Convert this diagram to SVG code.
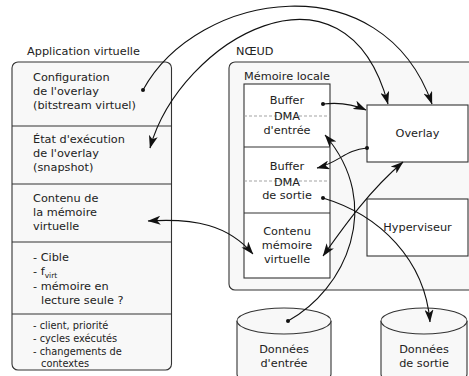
<svg xmlns="http://www.w3.org/2000/svg" width="469" height="376" viewBox="0 0 469 376">
  <style>
    text { font-family: "DejaVu Sans", "Liberation Sans", sans-serif; font-size: 11.3px; fill: #222; }
    .small { font-size: 9.8px; }
    .mid { text-anchor: middle; }
    .outer { fill: #f8f8f8; stroke: #333; stroke-width: 1.1; }
    .inner { fill: #ffffff; stroke: #333; stroke-width: 1.1; }
    .sep { stroke: #333; stroke-width: 1.1; fill: none; }
    .dash { stroke: #999; stroke-width: 0.9; stroke-dasharray: 3 2; fill: none; }
    .edge { fill: none; stroke: #111; stroke-width: 1.1; }
    .dot { fill: #111; }
  </style>
  <defs>
    <marker id="arrow" viewBox="0 0 13 9" refX="12.5" refY="4.5" markerWidth="13" markerHeight="9" markerUnits="userSpaceOnUse" orient="auto-start-reverse">
      <path d="M0,0 L13,4.5 L0,9 L3.5,4.5 z" fill="#111"/>
    </marker>
  </defs>

  <rect width="469" height="376" fill="#ffffff"/>

  <!-- Virtual application: record of sections -->
  <g id="app-virtuelle">
    <text x="27" y="55">Application virtuelle</text>
    <rect class="outer" x="12" y="62" width="159.5" height="308" rx="6"/>
    <line class="sep" x1="12" y1="126" x2="171.5" y2="126"/>
    <line class="sep" x1="12" y1="184" x2="171.5" y2="184"/>
    <line class="sep" x1="12" y1="242" x2="171.5" y2="242"/>
    <line class="sep" x1="12" y1="314" x2="171.5" y2="314"/>
    <text x="33" y="81">Configuration</text>
    <text x="33" y="95">de l'overlay</text>
    <text x="33" y="109">(bitstream virtuel)</text>
    <text x="33" y="143">État d'exécution</text>
    <text x="33" y="157">de l'overlay</text>
    <text x="33" y="171">(snapshot)</text>
    <text x="33" y="202">Contenu de</text>
    <text x="33" y="216">la mémoire</text>
    <text x="33" y="230">virtuelle</text>
    <text x="33" y="261">- Cible</text>
    <text x="33" y="275">- f<tspan font-size="7.5px" dy="2.5">virt</tspan></text>
    <text x="33" y="290">- mémoire en</text>
    <text x="41" y="304">lecture seule ?</text>
    <text class="small" x="33" y="329">- client, priorité</text>
    <text class="small" x="33" y="342">- cycles exécutés</text>
    <text class="small" x="33" y="355">- changements de</text>
    <text class="small" x="41" y="367">contextes</text>
  </g>

  <!-- Node container -->
  <g id="noeud">
    <text x="236" y="55">NŒUD</text>
    <rect class="outer" x="229" y="62" width="260" height="228" rx="6"/>
    <text x="244" y="80">Mémoire locale</text>
  </g>

  <!-- Local memory column -->
  <g id="memoire-locale">
    <rect class="inner" x="244" y="84" width="86" height="194"/>
    <line class="sep" x1="244" y1="147" x2="330" y2="147"/>
    <line class="sep" x1="244" y1="213" x2="330" y2="213"/>
    <line class="dash" x1="244" y1="116" x2="330" y2="116"/>
    <line class="dash" x1="244" y1="181" x2="330" y2="181"/>
  </g>
  <g id="buffer-entree">
    <text class="mid" x="287" y="104">Buffer</text>
    <text class="mid" x="287" y="120">DMA</text>
    <text class="mid" x="287" y="134">d'entrée</text>
  </g>
  <g id="buffer-sortie">
    <text class="mid" x="287" y="170">Buffer</text>
    <text class="mid" x="287" y="185.5">DMA</text>
    <text class="mid" x="287" y="199">de sortie</text>
  </g>
  <g id="contenu-memoire">
    <text class="mid" x="287" y="235">Contenu</text>
    <text class="mid" x="287" y="249">mémoire</text>
    <text class="mid" x="287" y="263">virtuelle</text>
  </g>

  <g id="overlay">
    <rect class="inner" x="367" y="105" width="101" height="57"/>
    <text class="mid" x="417.5" y="137">Overlay</text>
  </g>
  <g id="hyperviseur">
    <rect class="inner" x="367" y="199" width="101" height="57"/>
    <text class="mid" x="417.5" y="231">Hyperviseur</text>
  </g>

  <!-- Data stores -->
  <g id="donnees-entree">
    <path class="outer" d="M237,321 L237,374 A47,13 0 0 0 331,374 L331,321"/>
    <ellipse class="outer" cx="284" cy="321" rx="47" ry="13"/>
    <text class="mid" x="284" y="353">Données</text>
    <text class="mid" x="284" y="367">d'entrée</text>
  </g>
  <g id="donnees-sortie">
    <path class="outer" d="M381,321 L381,374 A43,13 0 0 0 467,374 L467,321"/>
    <ellipse class="outer" cx="424" cy="321" rx="43" ry="13"/>
    <text class="mid" x="424" y="353">Données</text>
    <text class="mid" x="424" y="367">de sortie</text>
  </g>

  <!-- Connectors -->
  <g id="connecteurs">
    <!-- overlay configuration -> overlay -->
    <path class="edge" d="M143,90 C198,-10 382,-38 432,104" marker-end="url(#arrow)"/>
    <circle class="dot" cx="143" cy="90" r="2"/>
    <!-- execution state <-> overlay -->
    <path class="edge" d="M150,148 C180,40 345,-55 388,104" marker-start="url(#arrow)" marker-end="url(#arrow)"/>
    <!-- input DMA buffer -> overlay -->
    <path class="edge" d="M323,104 C340,102 355,105 366,110" marker-end="url(#arrow)"/>
    <circle class="dot" cx="323" cy="104" r="2"/>
    <!-- overlay -> output DMA buffer -->
    <path class="edge" d="M367,148 C345,150 340,162 317,168" marker-end="url(#arrow)"/>
    <circle class="dot" cx="367" cy="148" r="2"/>
    <!-- virtual memory content <-> local copy -->
    <path class="edge" d="M148,221 C195,218 228,225 253,254" marker-start="url(#arrow)" marker-end="url(#arrow)"/>
    <!-- input data -> input DMA buffer -->
    <path class="edge" d="M288,321 C345,290 385,205 325,135" marker-end="url(#arrow)"/>
    <circle class="dot" cx="288" cy="321" r="2"/>
    <!-- output DMA buffer -> output data -->
    <path class="edge" d="M323,198 C380,215 425,260 430,322" marker-end="url(#arrow)"/>
    <circle class="dot" cx="323" cy="198" r="2"/>
    <!-- local memory content <-> overlay -->
    <path class="edge" d="M323,256 C345,225 370,190 403,162" marker-start="url(#arrow)" marker-end="url(#arrow)"/>
  </g>
</svg>
